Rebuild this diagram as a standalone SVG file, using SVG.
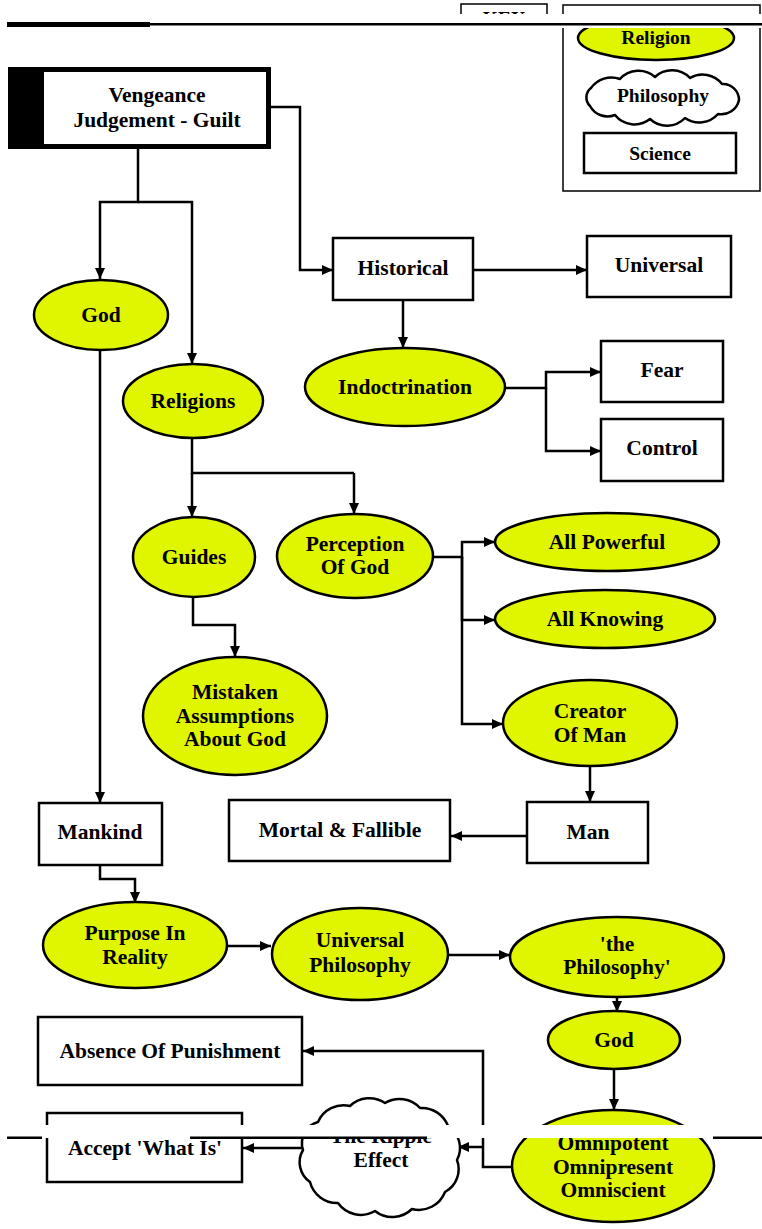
<svg xmlns="http://www.w3.org/2000/svg" width="762" height="1229" viewBox="0 0 762 1229">
<style>
text{font-family:"Liberation Serif","Times New Roman",serif;font-weight:bold;font-size:21.5px;fill:#000;text-anchor:middle}
.lg{font-size:19.5px}
.rel{fill:#e0f500;stroke:#000;stroke-width:2.5}
.sci{fill:#fff;stroke:#000;stroke-width:2.5}
.phi{fill:#fff;stroke:#000;stroke-width:2.5;stroke-linejoin:round}
.c{fill:none;stroke:#000;stroke-width:2.5}
.a{marker-end:url(#ah)}
</style>
<defs>
<marker id="ah" markerUnits="userSpaceOnUse" markerWidth="12" markerHeight="10" refX="11" refY="5" orient="auto">
<path d="M0,0 L11,5 L0,10 Z" fill="#000"/>
</marker>
</defs>
<rect width="762" height="1229" fill="#fff"/>

<g id="legend">
<rect x="461" y="4" width="86" height="20" fill="#fff" stroke="#000" stroke-width="1.5"/>
<text x="504" y="25" class="lg">KEY</text>
<rect x="563" y="5" width="197" height="186" fill="none" stroke="#000" stroke-width="1.5"/>
<ellipse cx="656" cy="38" rx="78" ry="22" class="rel"/>
<text x="656" y="44" class="lg">Religion</text>
<path class="phi" d="M591,88 A25,25 0 0 1 620,79 A25,25 0 0 1 655,77 A25,25 0 0 1 690,78 A25,25 0 0 1 722,84 A16,16 0 0 1 739,100 A18,18 0 0 1 718,114 A25,25 0 0 1 685,118 A25,25 0 0 1 650,119 A25,25 0 0 1 615,115 A20,20 0 0 1 590,106 A12,12 0 0 1 591,88 Z"/>
<text x="663" y="102" class="lg">Philosophy</text>
<rect x="584" y="133" width="152" height="40" class="sci"/>
<text x="660" y="160" class="lg">Science</text>
</g>

<g id="connectors">
<path class="c a" d="M138,149 V202 H100 V279"/>
<path class="c a" d="M138,202 H192 V364"/>
<path class="c a" d="M271,107 H300 V270 H333"/>
<path class="c a" d="M473,270 H587"/>
<path class="c a" d="M403,300 V348"/>
<path class="c a" d="M505,388 H546 V372 H601"/>
<path class="c a" d="M546,388 V451 H601"/>
<path class="c" d="M192,439 V473 H354"/>
<path class="c a" d="M192,473 V517"/>
<path class="c a" d="M354,473 V514"/>
<path class="c a" d="M193,597 V625 H235 V657"/>
<path class="c a" d="M433,557 H462 V542 H495"/>
<path class="c a" d="M462,557 V620 H495"/>
<path class="c a" d="M462,557 V724 H503"/>
<path class="c a" d="M100,350 V803"/>
<path class="c a" d="M590,767 V802"/>
<path class="c a" d="M526,836 H451"/>
<path class="c a" d="M100,865 V879 H135 V903"/>
<path class="c a" d="M227,946 H271"/>
<path class="c a" d="M448,955 H510"/>
<path class="c a" d="M617,997 V1012"/>
<path class="c a" d="M614,1069 V1110"/>
<path class="c a" d="M512,1167 H483 V1051 H303"/>
<path class="c a" d="M483,1147 H458"/>
<path class="c a" d="M302,1148 H243"/>
</g>

<g id="vengeance">
<rect x="8" y="67" width="263" height="82" fill="#000"/>
<rect x="44" y="72" width="222" height="72" fill="#fff"/>
<text x="157" y="102">Vengeance</text>
<text x="157" y="127">Judgement - Guilt</text>
</g>
<g id="god"><ellipse cx="101" cy="315" rx="67" ry="35" class="rel"/><text x="101" y="322">God</text></g>
<g id="religions"><ellipse cx="193" cy="401" rx="70" ry="37" class="rel"/><text x="193" y="408">Religions</text></g>
<g id="historical"><rect x="333" y="238" width="140" height="62" class="sci"/><text x="403" y="275">Historical</text></g>
<g id="universal"><rect x="587" y="236" width="144" height="61" class="sci"/><text x="659" y="272">Universal</text></g>
<g id="indoctrination"><ellipse cx="405" cy="387" rx="100" ry="39" class="rel"/><text x="405" y="394">Indoctrination</text></g>
<g id="fear"><rect x="601" y="341" width="122" height="61" class="sci"/><text x="662" y="377">Fear</text></g>
<g id="control"><rect x="601" y="419" width="122" height="62" class="sci"/><text x="662" y="455">Control</text></g>
<g id="guides"><ellipse cx="194" cy="557" rx="61" ry="40" class="rel"/><text x="194" y="564">Guides</text></g>
<g id="perception"><ellipse cx="355" cy="556" rx="78" ry="42" class="rel"/><text x="355" y="551">Perception</text><text x="355" y="574">Of God</text></g>
<g id="mistaken"><ellipse cx="235" cy="716" rx="92" ry="59" class="rel"/><text x="235" y="699">Mistaken</text><text x="235" y="723">Assumptions</text><text x="235" y="746">About God</text></g>
<g id="allpowerful"><ellipse cx="607" cy="542" rx="112" ry="29" class="rel"/><text x="607" y="549">All Powerful</text></g>
<g id="allknowing"><ellipse cx="605" cy="619" rx="110" ry="29" class="rel"/><text x="605" y="626">All Knowing</text></g>
<g id="creator"><ellipse cx="590" cy="723" rx="87" ry="43" class="rel"/><text x="590" y="718">Creator</text><text x="590" y="742">Of Man</text></g>
<g id="mankind"><rect x="39" y="803" width="123" height="62" class="sci"/><text x="100" y="839">Mankind</text></g>
<g id="mortal"><rect x="229" y="800" width="221" height="61" class="sci"/><text x="340" y="837">Mortal &amp; Fallible</text></g>
<g id="man"><rect x="527" y="802" width="121" height="61" class="sci"/><text x="588" y="839">Man</text></g>
<g id="purpose"><ellipse cx="135" cy="945" rx="92" ry="43" class="rel"/><text x="135" y="940">Purpose In</text><text x="135" y="964">Reality</text></g>
<g id="uniphil"><ellipse cx="360" cy="954" rx="88" ry="46" class="rel"/><text x="360" y="947">Universal</text><text x="360" y="972">Philosophy</text></g>
<g id="thephil"><ellipse cx="617" cy="957" rx="107" ry="40" class="rel"/><text x="617" y="951">'the</text><text x="617" y="974">Philosophy'</text></g>
<g id="god2"><ellipse cx="614" cy="1040" rx="66" ry="29" class="rel"/><text x="614" y="1047">God</text></g>
<g id="absence"><rect x="38" y="1017" width="264" height="68" class="sci"/><text x="170" y="1058">Absence Of Punishment</text></g>
<g id="omni"><ellipse cx="613" cy="1166" rx="101" ry="56" class="rel"/><text x="613" y="1150">Omnipotent</text><text x="613" y="1174">Omnipresent</text><text x="613" y="1197">Omniscient</text></g>
<g id="ripple"><path class="phi" d="M318,1122 A28,28 0 0 1 350,1106 A28,28 0 0 1 385,1103 A28,28 0 0 1 420,1108 A28,28 0 0 1 448,1126 A26,26 0 0 1 457,1160 A26,26 0 0 1 445,1192 A28,28 0 0 1 412,1209 A28,28 0 0 1 375,1211 A28,28 0 0 1 338,1203 A28,28 0 0 1 310,1182 A24,24 0 0 1 303,1150 A22,22 0 0 1 318,1122 Z"/><text x="381" y="1143">The Ripple</text><text x="381" y="1167">Effect</text></g>
<g id="accept"><rect x="47" y="1113" width="195" height="69" class="sci"/><text x="145" y="1155">Accept 'What Is'</text></g>

<g id="artifacts">
<rect x="0" y="14" width="762" height="14" fill="#fff"/>
<rect x="7" y="22" width="143" height="5" fill="#000"/>
<rect x="150" y="23" width="612" height="2.5" fill="#000"/>
<rect x="44" y="1125" width="668" height="13" fill="#fff"/>
<rect x="190" y="1136.5" width="237" height="2.5" fill="#000"/>
<rect x="7" y="1136.5" width="35" height="2.5" fill="#000"/>
<rect x="713" y="1136.5" width="49" height="2.5" fill="#000"/>
</g>
</svg>
